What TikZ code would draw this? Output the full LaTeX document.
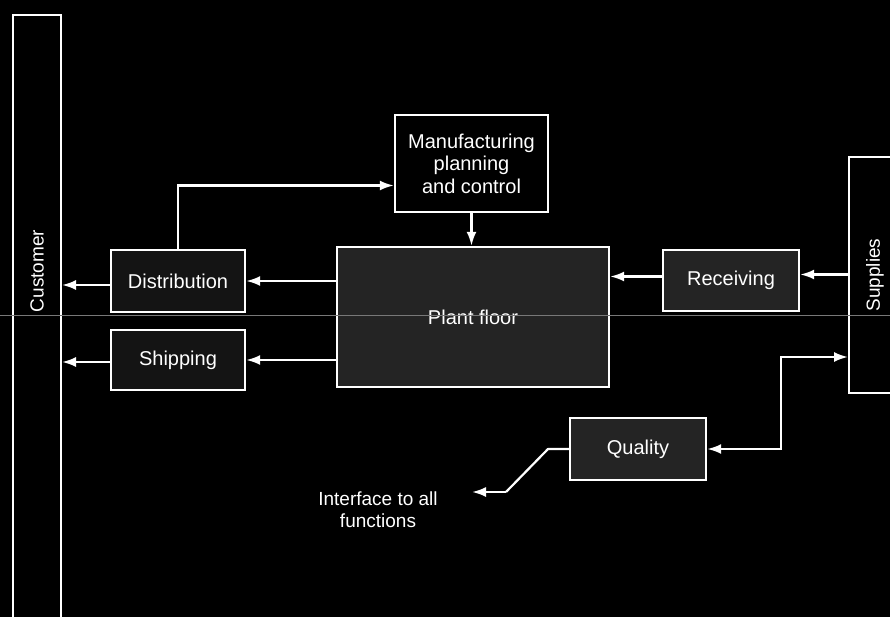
\documentclass[tikz,border=0pt]{standalone}
\usepackage{fontspec}
\setmainfont{Liberation Sans}
\usetikzlibrary{arrows.meta}
\definecolor{stipple}{RGB}{36,36,36}
\definecolor{stippledark}{RGB}{20,20,20}
\definecolor{scanline}{RGB}{120,120,120}
\tikzset{
  box/.style={draw=white, line width=2.4pt, text=white, inner sep=0pt,
    font=\fontsize{20}{22.5}\selectfont, align=center},
  bar/.style={draw=white, line width=2pt, inner sep=0pt, fill=black},
  lbl/.style={text=white, font=\fontsize{19}{22}\selectfont, align=center, inner sep=0pt},
  flow/.style={draw=white, line width=2.2pt, -{Latex[length=14pt,width=10pt]}},
  flow2/.style={draw=white, line width=2.2pt, {Latex[length=14pt,width=10pt]}-{Latex[length=14pt,width=10pt]}},
  plain/.style={draw=white, line width=2.2pt, line join=round}
}
\begin{document}
\begin{tikzpicture}[x=1pt,y=-1pt]
\useasboundingbox (0,0) rectangle (890,617);
\fill[black] (0,0) rectangle (890,617);

% side bars
\node[bar, minimum width=48pt, minimum height=630pt] (customer) at (37,330) {};
\node[lbl, rotate=90] (customerlabel) at (37,271) {Customer};
\node[bar, minimum width=62pt, minimum height=236pt] (supplies) at (880,275) {};
\node[lbl, rotate=90] (supplieslabel) at (875,275) {Supplies};

% boxes
\node[box, fill=stippledark, minimum width=134pt, minimum height=62pt] (dist) at (178,281) {Distribution};
\node[box, fill=stippledark, minimum width=134pt, minimum height=60pt] (ship) at (178,360) {Shipping};
\node[box, fill=black, minimum width=153pt, minimum height=97pt] (mpc) at (471.5,163.5) {Manufacturing\\planning\\and control};
\node[box, fill=stipple, minimum width=272pt, minimum height=140pt] (plant) at (473,317) {Plant floor};
\node[box, fill=stipple, minimum width=136pt, minimum height=61pt] (recv) at (731,280.5) {Receiving};
\node[box, fill=stipple, minimum width=136pt, minimum height=62pt] (quality) at (638,449) {Quality};

\node[lbl] (iface) at (378,510) {Interface to all\\functions};

% scan line
\draw[scanline, line width=0.9pt] (0,315) -- (890,315);

% connectors
\draw[flow] ([yshift=-4pt]dist.west) -- ([yshift=-4pt]customer.east |- dist.west);
\draw[flow] ([yshift=-2pt]ship.west) -- ([yshift=-2pt]customer.east |- ship.west);
\draw[flow] (plant.west |- dist.east) -- (dist.east);
\draw[flow] (plant.west |- ship.east) -- (ship.east);
\draw[flow] (dist.north) |- ([yshift=-22pt]mpc.west);
\draw[flow] (mpc.south) -- (mpc.south |- plant.north);
\draw[flow] ([yshift=4pt]recv.west) -- ([yshift=4pt]plant.east |- recv.west);
\draw[flow] ([yshift=6pt]supplies.west |- recv.east) -- ([yshift=6pt]recv.east);

\coordinate (qturn) at (781,357);
\draw[flow2] (quality.east) -| (qturn) -- (supplies.west |- qturn);

\coordinate (ibend) at (548,449);
\coordinate (idiag) at (506,492);
\coordinate (itip) at (472,492);
\draw[plain] (quality.west) -- (ibend) -- (idiag);
\draw[flow] (idiag) -- (itip);
\end{tikzpicture}
\end{document}
